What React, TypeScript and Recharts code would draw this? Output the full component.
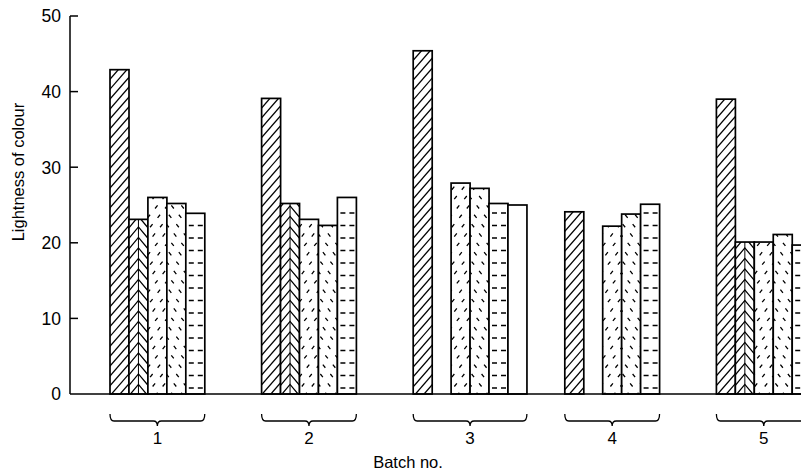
import React from 'react';
import { BarChart, Bar, XAxis, YAxis } from 'recharts';

// ---- data ----
const batches = ['1', '2', '3', '4', '5'];
const series1: (number | null)[] = [42.9, 39.1, 45.4, 24.1, 39.0];
const series2: (number | null)[] = [23.1, 25.2, null, null, 20.1];
const series3: (number | null)[] = [26.0, 23.1, 27.9, 22.2, 20.1];
const series4: (number | null)[] = [25.2, 22.3, 27.2, 23.8, 21.1];
const series5: (number | null)[] = [23.9, 26.0, 25.2, 25.1, 19.7];
const series6: (number | null)[] = [null, null, 25.0, null, null];
const yTicks = [0, 10, 20, 30, 40, 50];
const yTitle = 'Lightness of colour';
const xTitle = 'Batch no.';

// ---- table built from the arrays ----
const allSeries = [series1, series2, series3, series4, series5, series6];
const seriesKeys = ['s1', 's2', 's3', 's4', 's5', 's6'];
type Kind = 'slash' | 'herring' | 'dslash' | 'dback' | 'dhoriz' | 'plain';
const kinds: Kind[] = ['slash', 'herring', 'dslash', 'dback', 'dhoriz', 'plain'];
const CORE_SERIES = 5;
const SLOTS_PER_BATCH = 8;

type SlotInfo = { batch: string; pos: number; size: number };
const slotInfo: Record<string, SlotInfo> = {};
const rows: any[] = [];
batches.forEach((b, bi) => {
  const members = allSeries
    .map((_, si) => si)
    .filter((si) => si < CORE_SERIES || allSeries[si][bi] != null);
  const size = members.length;
  for (let pos = 0; pos < SLOTS_PER_BATCH; pos++) {
    const key = `${b}-${pos}`;
    const row: any = { key };
    seriesKeys.forEach((k) => (row[k] = 0));
    if (pos < size) {
      const si = members[pos];
      row[seriesKeys[si]] = allSeries[si][bi] ?? 0;
    }
    slotInfo[key] = { batch: b, pos, size };
    rows.push(row);
  }
});

const FONT = '"Liberation Sans", Arial, Helvetica, sans-serif';

function hatch(kind: Kind, x: number, y: number, w: number, h: number) {
  const b = y + h;
  const out: React.ReactElement[] = [];
  if (kind === 'slash' || kind === 'dslash' || kind === 'dback') {
    const slope = kind === 'slash' ? 1.15 : 1.25;
    const step = kind === 'slash' ? 8.6 : 10;
    const H = h + 60;
    const run = H / slope;
    let i = 0;
    for (let o = -run - step; o <= w + step; o += step) {
      let x1 = x + o;
      let x2 = x + o + run;
      const y1 = b + 30;
      const y2 = b + 30 - H;
      if (kind === 'dback') {
        x1 = 2 * x + w - x1;
        x2 = 2 * x + w - x2;
      }
      out.push(
        <line
          key={i++}
          x1={x1}
          y1={y1}
          x2={x2}
          y2={y2}
          stroke="#000"
          strokeWidth={1.3}
          strokeDasharray={kind === 'slash' ? undefined : '4 8'}
        />
      );
    }
  } else if (kind === 'herring') {
    const cx = x + w / 2;
    const hw = w / 2;
    const slope = 1.2;
    const step = 10.5;
    let i = 0;
    for (let ay = b + hw * slope + step; ay > y - step; ay -= step) {
      out.push(
        <polyline
          key={i++}
          points={`${x},${ay + hw * slope} ${cx},${ay} ${x + w},${ay + hw * slope}`}
          fill="none"
          stroke="#000"
          strokeWidth={1.3}
        />
      );
    }
    out.push(<line key="c" x1={cx} x2={cx} y1={y} y2={b} stroke="#000" strokeWidth={1} />);
  } else if (kind === 'dhoriz') {
    let i = 0;
    for (let yy = b - 6; yy > y + 4; yy -= 12.5) {
      out.push(
        <line
          key={i++}
          x1={x + 3}
          x2={x + w - 2}
          y1={yy}
          y2={yy}
          stroke="#000"
          strokeWidth={1.3}
          strokeDasharray="5 4"
        />
      );
    }
  }
  return out;
}

function makeShape(kind: Kind, dataKey: string) {
  return (props: any) => {
    const { x, y, width, height, index } = props;
    if (!(height > 0.5) || !(width > 0)) return <g />;
    const id = `clip-${dataKey}-${index}`;
    return (
      <g>
        <defs>
          <clipPath id={id}>
            <rect x={x} y={y} width={width} height={height} />
          </clipPath>
        </defs>
        <rect x={x} y={y} width={width} height={height} fill="#fff" />
        <g clipPath={`url(#${id})`}>{hatch(kind, x, y, width, height)}</g>
        <rect x={x} y={y} width={width} height={height} fill="none" stroke="#000" strokeWidth={1.7} />
      </g>
    );
  };
}

const YTick = (props: any) => {
  const { x, y, payload } = props;
  return (
    <g>
      {payload.value !== 0 && (
        <line x1={x} x2={x + 8} y1={y} y2={y} stroke="#000" strokeWidth={1.5} />
      )}
      <text x={x - 9} y={y} dy="0.36em" textAnchor="end" fontSize={17.5} fontFamily={FONT} fill="#000">
        {payload.value}
      </text>
    </g>
  );
};

const BatchTick = (props: any) => {
  const { x, y, payload } = props;
  const info = slotInfo[payload.value];
  if (!info || info.pos !== 0) return <g />;
  const half = payload.offset ?? 9.47;
  const xl = x - half;
  const xr = x + (2 * info.size - 1) * half;
  const cx = (xl + xr) / 2;
  const yTop = y + 20;
  const yLine = y + 27;
  const yCusp = y + 32;
  const r = 4;
  const d = `M ${xl} ${yTop} Q ${xl} ${yLine} ${xl + r} ${yLine} L ${cx - r} ${yLine} Q ${cx} ${yLine} ${cx} ${yCusp} Q ${cx} ${yLine} ${cx + r} ${yLine} L ${xr - r} ${yLine} Q ${xr} ${yLine} ${xr} ${yTop}`;
  return (
    <g>
      <path d={d} fill="none" stroke="#000" strokeWidth={1.3} />
      <text x={cx} y={y + 50} textAnchor="middle" fontSize={17} fontFamily={FONT} fill="#000">
        {info.batch}
      </text>
    </g>
  );
};

const YTitle = (props: any) => {
  const vb = props.viewBox || { x: 0, y: 16, width: 70, height: 378 };
  const cx = vb.x + 18;
  const cy = vb.y + vb.height * 0.413;
  return (
    <text
      x={cx}
      y={cy}
      dy="0.36em"
      transform={`rotate(-90 ${cx} ${cy})`}
      textAnchor="middle"
      fontSize={16.5}
      fontFamily={FONT}
      fill="#000"
    >
      {yTitle}
    </text>
  );
};

const XTitle = (props: any) => {
  const vb = props.viewBox || { x: 70, y: 394, width: 798, height: 78 };
  return (
    <text x={vb.x + 338} y={vb.y + 74} textAnchor="middle" fontSize={16.5} fontFamily={FONT} fill="#000">
      {xTitle}
    </text>
  );
};

export default function App() {
  return (
    <div
      style={{
        position: 'absolute',
        left: 0,
        top: 0,
        width: 801,
        height: 472,
        overflow: 'hidden',
        background: '#fff',
      }}
    >
      <BarChart
        width={868}
        height={472}
        data={rows}
        margin={{ top: 16, right: 0, bottom: 0, left: 0 }}
        barCategoryGap={0}
        barGap={0}
      >
        <XAxis
          dataKey="key"
          type="category"
          interval={0}
          height={78}
          padding={{ left: 40, right: 0 }}
          axisLine={{ stroke: '#000', strokeWidth: 1.5 }}
          tickLine={false}
          tickSize={0}
          tickMargin={0}
          tick={<BatchTick />}
          label={{ content: <XTitle /> }}
        />
        <YAxis
          type="number"
          domain={[0, 50]}
          ticks={yTicks}
          width={70}
          axisLine={{ stroke: '#000', strokeWidth: 1.5 }}
          tickLine={false}
          tickSize={0}
          tickMargin={0}
          tick={<YTick />}
          label={{ content: <YTitle /> }}
        />
        {seriesKeys.map((k, i) => (
          <Bar
            key={k}
            dataKey={k}
            stackId="batch"
            isAnimationActive={false}
            shape={makeShape(kinds[i], k)}
          />
        ))}
      </BarChart>
    </div>
  );
}
